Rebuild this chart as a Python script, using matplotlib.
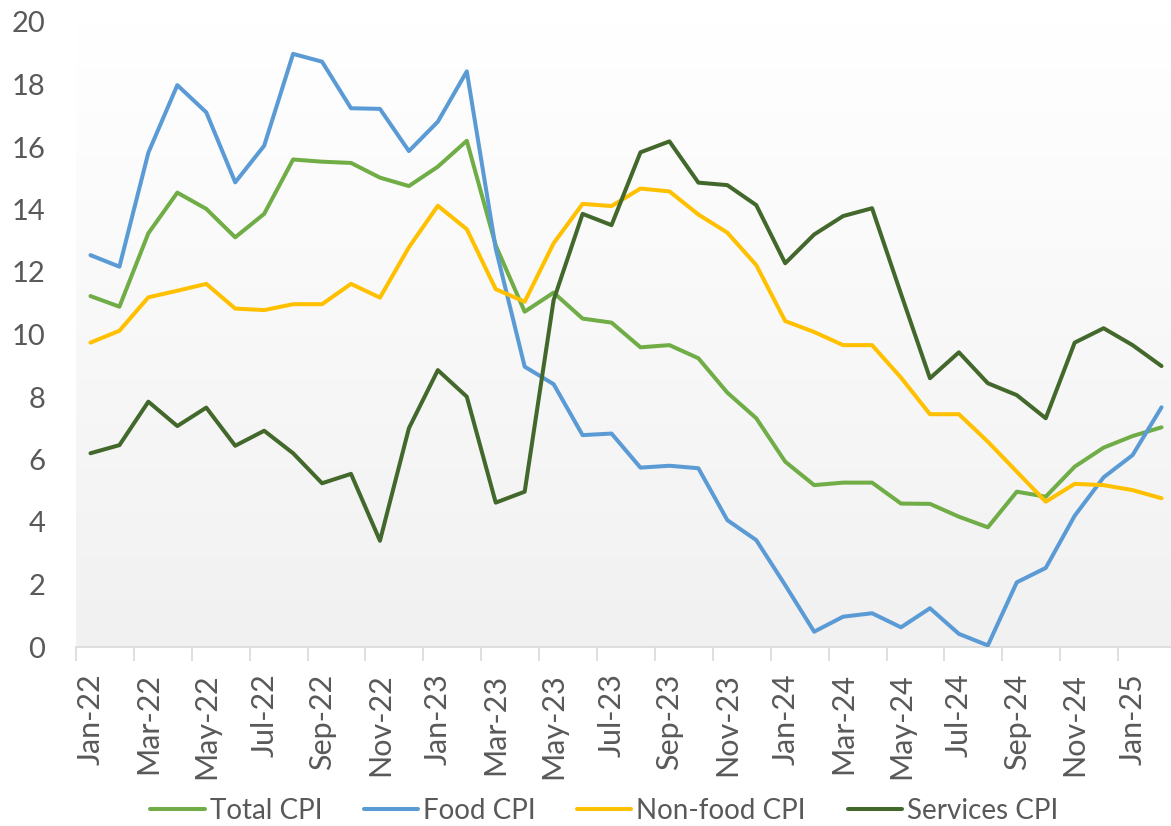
import numpy as np
import matplotlib
matplotlib.use("Agg")
import matplotlib.pyplot as plt
from matplotlib.colors import LinearSegmentedColormap

plt.rcParams["font.family"] = ["Lato", "DejaVu Sans"]
INK = "#595959"

MONTHS = ["Jan", "Feb", "Mar", "Apr", "May", "Jun",
          "Jul", "Aug", "Sep", "Oct", "Nov", "Dec"]
LABELS = [f"{MONTHS[i % 12]}-{22 + i // 12}" for i in range(38)]

total = [11.23, 10.89, 13.24, 14.54, 14.02, 13.11, 13.86, 15.60, 15.53, 15.49,
         15.02, 14.75, 15.37, 16.20, 12.85, 10.73, 11.34, 10.51, 10.38, 9.59,
         9.66, 9.24, 8.14, 7.32, 5.93, 5.18, 5.26, 5.26, 4.59, 4.58,
         4.17, 3.83, 4.97, 4.81, 5.77, 6.38, 6.75, 7.03]
food = [12.54, 12.17, 15.82, 17.98, 17.11, 14.87, 16.04, 18.98, 18.73, 17.24,
        17.22, 15.87, 16.81, 18.42, 12.75, 8.97, 8.41, 6.78, 6.83, 5.74,
        5.80, 5.72, 4.06, 3.42, 1.98, 0.49, 0.97, 1.08, 0.63, 1.24,
        0.42, 0.05, 2.07, 2.53, 4.20, 5.43, 6.14, 7.67]
nonfood = [9.74, 10.12, 11.19, 11.40, 11.62, 10.83, 10.78, 10.97, 10.97, 11.62,
           11.18, 12.79, 14.12, 13.37, 11.45, 11.05, 12.92, 14.18, 14.11, 14.67,
           14.58, 13.84, 13.26, 12.22, 10.43, 10.08, 9.66, 9.66, 8.62, 7.45,
           7.45, 6.57, 5.61, 4.65, 5.22, 5.18, 5.02, 4.76]
services = [6.20, 6.46, 7.85, 7.07, 7.66, 6.44, 6.92, 6.20, 5.24, 5.54,
            3.40, 7.00, 8.86, 8.01, 4.62, 4.97, 11.10, 13.86, 13.50, 15.83,
            16.18, 14.86, 14.78, 14.14, 12.28, 13.20, 13.79, 14.04, 11.30, 8.60,
            9.43, 8.44, 8.06, 7.32, 9.74, 10.20, 9.66, 8.99]

SERIES = [("Total CPI", total, "#70AD47"),
          ("Food CPI", food, "#5B9BD5"),
          ("Non-food CPI", nonfood, "#FFC000"),
          ("Services CPI", services, "#43682B")]

fig = plt.figure(figsize=(11.71, 8.26), dpi=100)
ax = fig.add_axes([76 / 1171, 1 - 647 / 826, 1100 / 1171, 625 / 826])

# plot-area gradient, white at top to light grey at bottom
grad = LinearSegmentedColormap.from_list("bg", ["#f1f1f1", "#ffffff"])
ax.imshow(np.linspace(0, 1, 256).reshape(-1, 1), cmap=grad, aspect="auto",
          origin="lower", extent=[-0.5, 37.5, 0, 20], zorder=0)

x = np.arange(len(LABELS))
for name, ys, col in SERIES:
    ax.plot(x, ys, color=col, lw=2.9, label=name, zorder=3,
            solid_joinstyle="round", solid_capstyle="round")

ax.set_xlim(-0.5, 37.5)
ax.set_ylim(0, 20)
ax.set_yticks(range(0, 21, 2))
ax.tick_params(axis="y", length=0, pad=22, labelsize=21, labelcolor=INK)
ax.set_xticks(x[::2])
ax.set_xticklabels(LABELS[::2], rotation=90)
ax.set_xticks(np.arange(-0.5, 38, 2), minor=True)
ax.tick_params(axis="x", which="major", length=0, pad=19, labelsize=22,
               labelcolor=INK)
ax.tick_params(axis="x", which="minor", length=10, width=1.2, color="#d9d9d9")
for lbl in ax.get_yticklabels():
    lbl.set_horizontalalignment("right")
for s in ("top", "right", "left"):
    ax.spines[s].set_visible(False)
ax.spines["bottom"].set_color("#d9d9d9")
ax.spines["bottom"].set_linewidth(1.2)

fig.legend(loc="lower center", bbox_to_anchor=(0.516, -0.028), ncol=4,
           frameon=False, fontsize=20, handlelength=1.95, handletextpad=0.18,
           columnspacing=1.5, labelcolor=INK)

fig.savefig("out.png", dpi=100, facecolor="white")
